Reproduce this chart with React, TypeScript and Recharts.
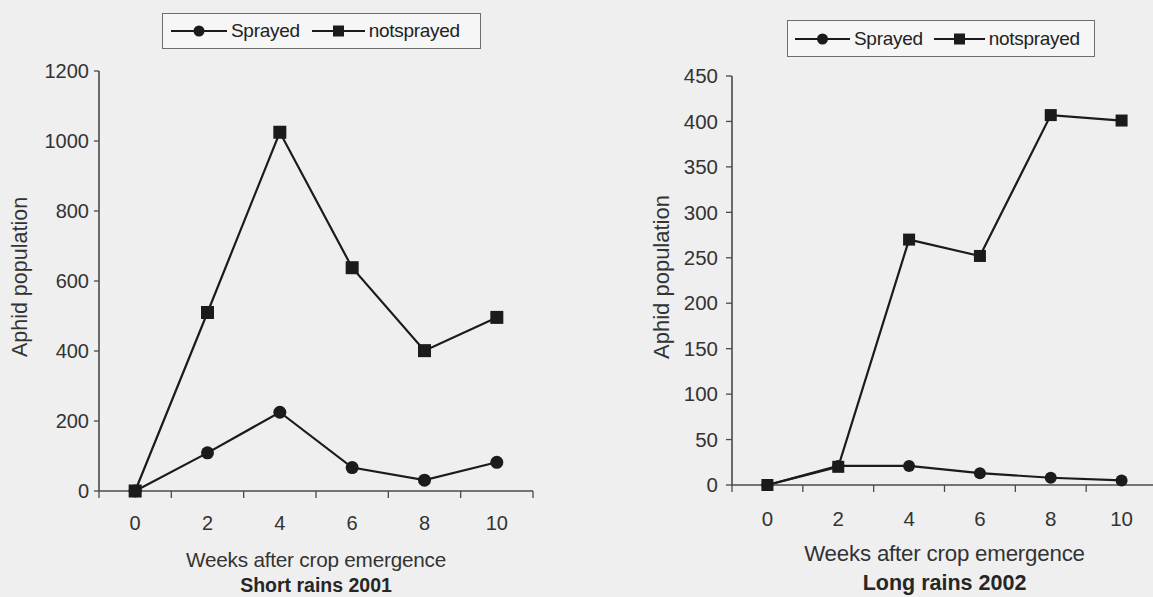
import React from 'react';
import { LineChart, Line, XAxis, YAxis, Legend, Label } from 'recharts';

// Sampling weeks after crop emergence
const weeks = [0, 2, 4, 6, 8, 10];
const sprayedName = 'Sprayed';
const notSprayedName = 'notsprayed';
const xTitle = 'Weeks after crop emergence';
const yTitle = 'Aphid population';

// Short rains 2001
const shortTitle = 'Short rains 2001';
const shortSprayed = [0, 109, 225, 67, 31, 82];
const shortNotSprayed = [0, 510, 1025, 638, 401, 496];
const shortYTicks = [0, 200, 400, 600, 800, 1000, 1200];

// Long rains 2002
const longTitle = 'Long rains 2002';
const longSprayed = [0, 21, 21, 13, 8, 5];
const longNotSprayed = [0, 20, 270, 252, 407, 401];
const longYTicks = [0, 50, 100, 150, 200, 250, 300, 350, 400, 450];

const FONT = '"Liberation Sans", Arial, sans-serif';
const INK = '#1b1b1b';
const TEXT = '#333333';
const AXIS = '#4a4a4a';

const buildRows = (sprayed: number[], notSprayed: number[]) =>
  weeks.map((w, i) => ({ week: w, sprayed: sprayed[i], notsprayed: notSprayed[i] }));

// category boundaries (tick marks) sit half-way between the sampled weeks
const boundaries = [weeks[0] - 1, ...weeks.map((w) => w + 1)];
const xTicks = [...boundaries, ...weeks].sort((a, b) => a - b);
const xDomain: [number, number] = [boundaries[0], boundaries[boundaries.length - 1]];

const makeXTick = (fontSize: number, labelOffset: number) => (props: any) => {
  const { x, y, payload, index } = props;
  const v = payload.value;
  if (weeks.includes(v)) {
    return (
      <text key={`t-${index}`} x={x} y={y + labelOffset} textAnchor="middle" dominantBaseline="central"
        fontSize={fontSize} fontFamily={FONT} fill={TEXT}>
        {v}
      </text>
    );
  }
  return <line key={`m-${index}`} x1={x} x2={x} y1={y} y2={y + 7} stroke={AXIS} strokeWidth={1.3} />;
};

const makeCircle = (size: number) => (props: any) => {
  const { cx, cy, index } = props;
  if (cx == null || cy == null) return <g key={`c-${index}`} />;
  return <circle key={`c-${index}`} cx={cx} cy={cy} r={size / 2} fill={INK} />;
};

const makeSquare = (size: number) => (props: any) => {
  const { cx, cy, index } = props;
  if (cx == null || cy == null) return <g key={`s-${index}`} />;
  return <rect key={`s-${index}`} x={cx - size / 2} y={cy - size / 2} width={size} height={size} fill={INK} />;
};

const makeLegend = (padLeft: number, sampleWidths: number[], gaps: number[]) => (props: any) => {
  const { payload = [] } = props;
  return (
    <div
      style={{
        boxSizing: 'border-box',
        width: '100%',
        height: '100%',
        border: '1.5px solid #6e6e6e',
        background: '#f6f6f6',
        display: 'flex',
        alignItems: 'center',
        paddingLeft: padLeft,
        fontFamily: FONT,
        fontSize: 19,
        color: '#222',
        letterSpacing: -0.3,
      }}
    >
      {payload.map((p: any, i: number) => {
        const w = sampleWidths[i];
        const isSquare = p.dataKey === 'notsprayed';
        return (
          <div key={p.value} style={{ display: 'flex', alignItems: 'center', marginRight: gaps[i] }}>
            <svg width={w} height={14} style={{ marginRight: 4 }}>
              <line x1={0} x2={w} y1={7} y2={7} stroke={INK} strokeWidth={2} />
              {isSquare ? (
                <rect x={w / 2 - 5.5} y={1.5} width={11} height={11} fill={INK} />
              ) : (
                <circle cx={w / 2} cy={7} r={5.5} fill={INK} />
              )}
            </svg>
            <span>{p.value}</span>
          </div>
        );
      })}
    </div>
  );
};

type PanelProps = {
  left: number;
  width: number;
  margin: { top: number; right: number; bottom: number; left: number };
  yAxisWidth: number;
  yMax: number;
  yTicks: number[];
  tickFont: number;
  tickSize: number;
  tickMargin: number;
  xLabelOffset: number;
  titleFont: number;
  titleDy: number;
  subFont: number;
  subDy: number;
  subtitle: string;
  yTitleX: number;
  yTitleY: number;
  yTitleFont: number;
  legendBox: { left: number; top: number; width: number; height: number };
  legendLayout: { padLeft: number; samples: number[]; gaps: number[] };
  markerSize: number;
  rows: any[];
};

const Panel = (p: PanelProps) => {
  const renderXTitle = (props: any) => {
    const vb = props.viewBox;
    const cx = vb.x + vb.width / 2;
    return (
      <g>
        <text x={cx} y={vb.y + p.titleDy} textAnchor="middle" dominantBaseline="central"
          fontSize={p.titleFont} fontFamily={FONT} fill={TEXT} letterSpacing={-0.2}>
          {xTitle}
        </text>
        <text x={cx} y={vb.y + p.subDy} textAnchor="middle" dominantBaseline="central"
          fontSize={p.subFont} fontFamily={FONT} fontWeight="bold" fill="#262626">
          {p.subtitle}
        </text>
      </g>
    );
  };
  const renderYTitle = () => (
    <text x={p.yTitleX} y={p.yTitleY} textAnchor="middle" dominantBaseline="central"
      transform={`rotate(-90, ${p.yTitleX}, ${p.yTitleY})`}
      fontSize={p.yTitleFont} fontFamily={FONT} fill={TEXT}>
      {yTitle}
    </text>
  );
  return (
    <div style={{ position: 'absolute', left: p.left, top: 0 }}>
      <LineChart width={p.width} height={597} data={p.rows} margin={p.margin}>
        <XAxis
          dataKey="week"
          type="number"
          domain={xDomain}
          ticks={xTicks}
          interval={0}
          tickLine={false}
          tickSize={0}
          tickMargin={0}
          tick={makeXTick(p.tickFont, p.xLabelOffset)}
          axisLine={{ stroke: AXIS, strokeWidth: 1.6 }}
          height={40}
        >
          <Label content={renderXTitle} />
        </XAxis>
        <YAxis
          type="number"
          domain={[0, p.yMax]}
          ticks={p.yTicks}
          interval={0}
          width={p.yAxisWidth}
          tickSize={p.tickSize}
          tickMargin={p.tickMargin}
          tick={{ fontSize: p.tickFont, fontFamily: FONT, fill: TEXT }}
          tickLine={{ stroke: AXIS, strokeWidth: 1.3 }}
          axisLine={{ stroke: AXIS, strokeWidth: 1.6 }}
        >
          <Label content={renderYTitle} />
        </YAxis>
        <Legend
          layout="horizontal"
          align="center"
          verticalAlign="middle"
          wrapperStyle={{
            left: p.legendBox.left,
            top: p.legendBox.top,
            width: p.legendBox.width,
            height: p.legendBox.height,
          }}
          content={makeLegend(p.legendLayout.padLeft, p.legendLayout.samples, p.legendLayout.gaps)}
        />
        <Line
          type="linear"
          dataKey="sprayed"
          name={sprayedName}
          stroke={INK}
          strokeWidth={2.2}
          dot={makeCircle(p.markerSize)}
          activeDot={false}
          isAnimationActive={false}
        />
        <Line
          type="linear"
          dataKey="notsprayed"
          name={notSprayedName}
          stroke={INK}
          strokeWidth={2.2}
          dot={makeSquare(p.markerSize)}
          activeDot={false}
          isAnimationActive={false}
        />
      </LineChart>
    </div>
  );
};

export default function App() {
  return (
    <div
      style={{
        position: 'absolute',
        left: 0,
        top: 0,
        width: 1153,
        height: 597,
        overflow: 'hidden',
        background: '#efefef',
      }}
    >
      <Panel
        left={0}
        width={580}
        margin={{ top: 71, right: 47, bottom: 66, left: 0 }}
        yAxisWidth={99}
        yMax={1200}
        yTicks={shortYTicks}
        tickFont={20}
        tickSize={5}
        tickMargin={5}
        xLabelOffset={32}
        titleFont={20.7}
        titleDy={68}
        subFont={19.5}
        subDy={94}
        subtitle={shortTitle}
        yTitleX={20}
        yTitleY={277}
        yTitleFont={21.5}
        legendBox={{ left: 162, top: 13, width: 319, height: 36 }}
        legendLayout={{ padLeft: 8, samples: [56, 53], gaps: [12, 0] }}
        markerSize={13}
        rows={buildRows(shortSprayed, shortNotSprayed)}
      />
      <Panel
        left={580}
        width={600}
        margin={{ top: 76, right: 23, bottom: 72, left: 0 }}
        yAxisWidth={152}
        yMax={450}
        yTicks={longYTicks}
        tickFont={20.5}
        tickSize={6}
        tickMargin={8}
        xLabelOffset={33}
        titleFont={22.3}
        titleDy={68}
        subFont={21.5}
        subDy={98}
        subtitle={longTitle}
        yTitleX={81}
        yTitleY={277}
        yTitleFont={22}
        legendBox={{ left: 207, top: 20, width: 308, height: 37 }}
        legendLayout={{ padLeft: 7, samples: [55, 51], gaps: [11, 0] }}
        markerSize={12}
        rows={buildRows(longSprayed, longNotSprayed)}
      />
    </div>
  );
}
